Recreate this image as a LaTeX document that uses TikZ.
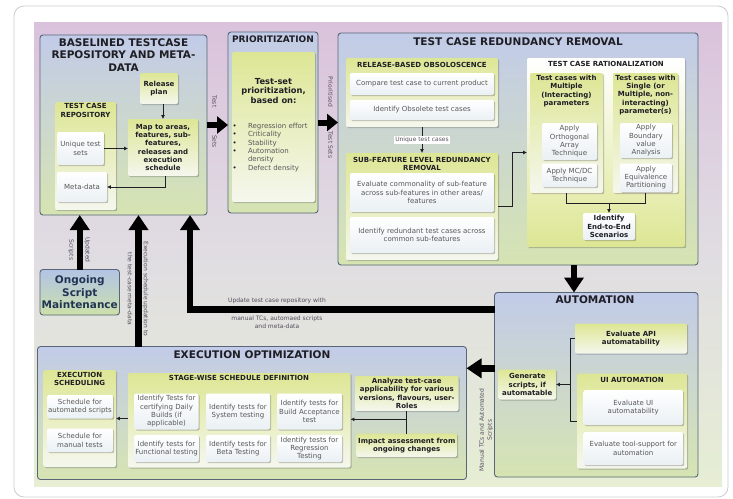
\documentclass[tikz,border=0pt]{standalone}
\usepackage{fontspec}
\setmainfont{DejaVu Sans}
\usetikzlibrary{arrows.meta,shadows,calc}

\definecolor{bigtop}{RGB}{194,203,232}
\definecolor{bigbot}{RGB}{214,228,178}
\definecolor{bigedge}{RGB}{88,102,120}
\definecolor{ptop}{RGB}{221,230,148}
\definecolor{pbot}{RGB}{245,247,238}
\definecolor{wbot}{RGB}{234,240,244}
\definecolor{graytext}{RGB}{88,88,88}
\definecolor{darktext}{RGB}{30,30,36}
\definecolor{labtext}{RGB}{85,78,92}
\definecolor{bgtop}{RGB}{218,194,220}
\definecolor{bgmid}{RGB}{224,221,226}
\definecolor{bgbot}{RGB}{230,238,212}
\definecolor{ongtop}{RGB}{178,196,228}
\definecolor{ongbot}{RGB}{204,224,170}
\definecolor{ongtext}{RGB}{34,52,84}

\newcommand\ftitle{\fontsize{10.5}{12.5}\selectfont\bfseries}
\newcommand\fpanel{\fontsize{7}{8.3}\selectfont\bfseries}
\newcommand\fsmall{\fontsize{7}{8.3}\selectfont}
\newcommand\fbold{\fontsize{7}{8.3}\selectfont\bfseries}
\newcommand\flabel{\fontsize{6}{8}\selectfont}

\newcommand\drawbox[7]{\node[#6, minimum width={((#4)-(#2))*1pt}, minimum height={((#5)-(#3))*1pt}] (#1) at ({((#2)+(#4))/2},{((#3)+(#5))/2}) {#7};}

\tikzset{
  nbase/.style={inner sep=1pt, outer sep=0pt, align=center},
  softshadow/.style={drop shadow={shadow xshift=1.2pt, shadow yshift=-1.2pt, opacity=0.22, fill=black}},
  bigbox/.style={nbase, draw=bigedge, line width=0.9pt, rounded corners=3pt, top color=bigtop, bottom color=bigbot},
  panel/.style={nbase, rounded corners=2pt, top color=ptop, bottom color=pbot, softshadow},
  wbox/.style={nbase, rounded corners=2pt, top color=white, bottom color=wbot, text=graytext, font=\fsmall, softshadow},
  ybox/.style={panel, text=darktext, font=\fbold},
  ttl/.style={nbase, text=darktext, font=\ftitle},
  ptl/.style={nbase, text=darktext, font=\fpanel},
  lab/.style={nbase, text=labtext, font=\flabel},
  thinline/.style={draw=darktext, line width=0.7pt},
  thinarrow/.style={thinline, -{Latex[length=3.8pt,width=3.8pt]}},
  bigarrowA/.style={line width=6pt, -{Triangle[length=11pt,width=17pt]}},
  bigarrowB/.style={line width=6.5pt, -{Triangle[length=15pt,width=19pt]}},
}

\begin{document}
\begin{tikzpicture}[x=1pt,y=-1pt]
\useasboundingbox (0,0) rectangle (733,498);

% card and background
\drawbox{card}{14}{6}{728}{497}{nbase, draw=black!20, line width=0.8pt, rounded corners=10pt, fill=white}{}
\drawbox{bg}{34}{22}{722}{486}{nbase, top color=bgtop, bottom color=bgbot, middle color=bgmid}{}

% ---------------- BASELINED ----------------
\drawbox{base}{40}{35}{207}{215}{bigbox}{}
\node[ttl] (baseT) at (123.5,55) {BASELINED TESTCASE\\REPOSITORY AND META-\\DATA};
\drawbox{rel}{140}{73}{178}{104}{ybox}{Release\\plan}
\drawbox{map}{128}{119}{198}{176}{ybox}{Map to areas,\\features, sub-\\features,\\releases and\\execution\\schedule}
\drawbox{tcr}{55}{102}{116}{210}{panel}{}
\node[ptl] (tcrT) at (85.5,110.5) {TEST CASE\\REPOSITORY};
\drawbox{uniq}{57}{132}{104}{165}{wbox}{Unique test\\sets}
\drawbox{meta}{57}{172}{107}{202}{wbox}{Meta-data}
\draw[thinarrow] (rel.south -| map.north) -- (map.north);
\draw[thinarrow] (uniq.east) -- (uniq.east -| map.west);
\draw[thinarrow] ([xshift=2pt]map.south) |- (meta.east);

% ---------------- PRIORITIZATION ----------------
\drawbox{prio}{228}{32}{318}{213}{bigbox}{}
\node[nbase, text=darktext, font=\fontsize{9}{10}\selectfont\bfseries] (prioT) at (273,38.8) {PRIORITIZATION};
\drawbox{prioP}{232}{52}{315}{202}{panel}{}
\node[nbase, text=darktext, font=\fontsize{8.3}{9.4}\selectfont\bfseries] (prioH) at (273.5,91) {Test-set\\prioritization,\\based on:};
\node[inner sep=0pt, outer sep=0pt, anchor=north west, font=\fsmall, text=graytext] (prioL) at (232.5,122.8) {\begin{tabular}{@{}p{15.5pt}@{}l@{}}
\textcolor{darktext}{•}&Regression effort\\
\textcolor{darktext}{•}&Criticality\\
\textcolor{darktext}{•}&Stability\\
\textcolor{darktext}{•}&Automation\\
&density\\
\textcolor{darktext}{•}&Defect density
\end{tabular}};

% ---------------- TEST CASE REDUNDANCY REMOVAL ----------------
\drawbox{tcrr}{338}{33}{698}{265}{bigbox}{}
\node[ttl] (tcrrT) at (518,42) {TEST CASE REDUNDANCY REMOVAL};
\drawbox{rbo}{346}{58}{498}{127}{panel}{}
\node[ptl] (rboT) at (422,64.5) {RELEASE-BASED OBSOLOSCENCE};
\drawbox{cmp}{350}{73}{494}{95}{wbox}{Compare test case to current product}
\drawbox{obs}{350}{100}{494}{120}{wbox}{Identify Obsolete test cases}
\drawbox{sub}{346}{153}{498}{260}{panel}{}
\node[ptl] (subT) at (422,164.2) {SUB-FEATURE LEVEL REDUNDANCY\\REMOVAL};
\drawbox{evc}{350}{173}{494}{212}{wbox}{Evaluate commonality of sub-feature\\across sub-features in other areas/\\features}
\drawbox{red}{350}{217}{494}{253}{wbox}{Identify redundant test cases across\\common sub-features}
\draw[thinarrow] (rbo.south) -- (sub.north) node[midway, fill=white, lab, inner sep=1.2pt] (utc) {Unique test cases};

\drawbox{rat}{527}{58}{685}{247}{nbase, rounded corners=2pt, top color=white, bottom color=ptop, softshadow}{}
\node[ptl] (ratT) at (606,63.8) {TEST CASE RATIONALIZATION};
\drawbox{mul}{530}{73}{603}{193}{panel}{}
\node[nbase, text=darktext, font=\fbold] (mulT) at (566.5,91) {Test cases with\\Multiple\\(Interacting)\\parameters};
\drawbox{orth}{542}{123}{597}{160}{wbox}{Apply\\Orthogonal\\Array\\Technique}
\drawbox{mcdc}{542}{163.5}{597}{187}{wbox}{Apply MC/DC\\Technique}
\drawbox{sgl}{613}{73}{678}{193}{panel}{}
\node[nbase, text=darktext, font=\fbold] (sglT) at (645.5,95) {Test cases with\\Single (or\\Multiple, non-\\interacting)\\parameter(s)};
\drawbox{bva}{620}{123}{672}{158}{wbox}{Apply\\Boundary\\value\\Analysis}
\drawbox{ep}{620}{163.5}{672}{192}{wbox}{Apply\\Equivalence\\Partitioning}
\drawbox{e2e}{583}{213}{635}{240}{wbox, text=darktext, font=\fbold}{Identify\\End-to-End\\Scenarios}
\coordinate (jn) at ($(mul.south)+(0,10.3)$);
\draw[thinline] (mul.south) |- (sgl.south |- jn) -- (sgl.south);
\draw[thinarrow] (e2e.north |- jn) -- (e2e.north);
\draw[thinarrow] (sub.east) -- ++(14,0) |- (rat.west);

% ---------------- AUTOMATION ----------------
\drawbox{auto}{494.5}{292.5}{698}{477}{bigbox}{}
\node[ttl] (autoT) at (595,300) {AUTOMATION};
\drawbox{api}{575}{323.5}{687}{353.5}{ybox}{Evaluate API\\automatability}
\drawbox{ui}{577}{373.5}{687}{468.5}{panel}{}
\node[ptl] (uiT) at (632,379.5) {UI AUTOMATION};
\drawbox{uie}{583.5}{390}{683}{425}{wbox}{Evaluate UI\\automatability}
\drawbox{tool}{583.5}{432}{683}{465}{wbox}{Evaluate tool-support for\\automation}
\drawbox{gen}{498.5}{369.5}{556}{399.5}{ybox}{Generate\\scripts, if\\automatable}
\coordinate (brk) at ([xshift=-4.3pt]api.west);
\draw[thinline] (api.west) -- (brk) |- (ui.west);
\draw[thinarrow] (brk |- gen.east) -- (gen.east);
\node[lab, rotate=90] (mtl) at (486.2,430) {Manual TCs and Automated\\Scripts};

% ---------------- EXECUTION OPTIMIZATION ----------------
\drawbox{eo}{37.5}{346.5}{466.5}{479.5}{bigbox}{}
\node[ttl] (eoT) at (252,354.5) {EXECUTION OPTIMIZATION};
\drawbox{es}{43.5}{370}{116}{467}{panel}{}
\node[ptl] (esT) at (79.7,379) {EXECUTION\\SCHEDULING};
\drawbox{sa}{47}{395}{113}{418.5}{wbox}{Schedule for\\automated scripts}
\drawbox{sm}{47}{428.5}{113}{452}{wbox}{Schedule for\\manual tests}
\drawbox{sw}{128}{373}{350.5}{467.5}{panel}{}
\node[ptl] (swT) at (239,377.5) {STAGE-WISE SCHEDULE DEFINITION};
\drawbox{g11}{134.5}{393.5}{198.5}{429.5}{wbox}{Identify Tests for\\certifying Daily\\Builds (if\\applicable)}
\drawbox{g12}{206}{393.5}{270}{429.5}{wbox}{Identify tests for\\System testing}
\drawbox{g13}{277}{393.5}{342}{429.5}{wbox}{Identify tests for\\Build Acceptance\\test}
\drawbox{g21}{134.5}{435}{198.5}{462}{wbox}{Identify tests for\\Functional testing}
\drawbox{g22}{206}{435}{270}{462}{wbox}{Identify tests for\\Beta Testing}
\drawbox{g23}{277}{435}{342}{462}{wbox}{Identify tests for\\Regression\\Testing}
\drawbox{ana}{355}{376}{458.5}{411}{ybox}{Analyze test-case\\applicability for various\\versions, flavours, user-\\Roles}
\drawbox{imp}{356.5}{433.5}{457}{457}{ybox}{Impact assessment from\\ongoing changes}
\coordinate (ej) at ($(ana.south)!0.37!(imp.north)$);
\draw[thinline] (ana.south) -- (imp.north);
\draw[thinarrow] (ej) -- (ej -| sw.east);
\draw[thinarrow] (sw.west |- sa.south) -- (es.east |- sa.south);

% ---------------- Ongoing ----------------
\drawbox{ong}{40}{269.5}{119.5}{315}{nbase, draw=bigedge, line width=0.9pt, rounded corners=3pt, top color=ongtop, bottom color=ongbot, text=ongtext, font=\ftitle}{Ongoing\\Script\\Maintenance}

% ---------------- big arrows ----------------
\draw[bigarrowA] (base.east) -- (base.east -| prio.west);
\draw[bigarrowA] (prio.east) -- (prio.east -| tcrr.west);
\node[lab, rotate=-90] (ts1) at (214.5,101.5) {Test};
\node[lab, rotate=-90] (ts2) at (214.5,141.5) {Sets};
\node[lab, rotate=-90] (pt1) at (330.5,92) {Prioritised};
\node[lab, rotate=-90] (pt2) at (330.5,145) {Test Sets};

\coordinate (ta) at ([xshift=56pt]tcrr.south);
\draw[bigarrowB] (ta) -- (ta |- auto.north);

\coordinate (ae) at ([yshift=-75.8pt]auto.north west);
\draw[bigarrowB] (ae) -- (ae -| eo.east);

\coordinate (au) at ([yshift=-16.8pt]auto.north west);
\coordinate (ub) at ([xshift=150pt]base.south west);
\draw[bigarrowB] (au) -| (ub);
\node[lab] (ul1) at (277,300.5) {Update test case repository with};
\node[lab, align=center] (ul2) at (277,322.5) {manual TCs, automaed scripts\\and meta-data};

\draw[bigarrowB] (ong.north) -- (ong.north |- base.south);
\node[lab, rotate=-90] (us1) at (87.3,250) {Updated};
\node[lab, rotate=-90] (us2) at (71,250) {Scripts};

\coordinate (eu) at ([xshift=101pt]eo.north west);
\draw[bigarrowB] (eu) -- (eu |- base.south);
\node[lab, rotate=-90] (ex1) at (145.5,289) {Execution schedule updation to};
\node[lab, rotate=-90] (ex2) at (130,289) {the test-case meta-data};
\end{tikzpicture}
\end{document}
